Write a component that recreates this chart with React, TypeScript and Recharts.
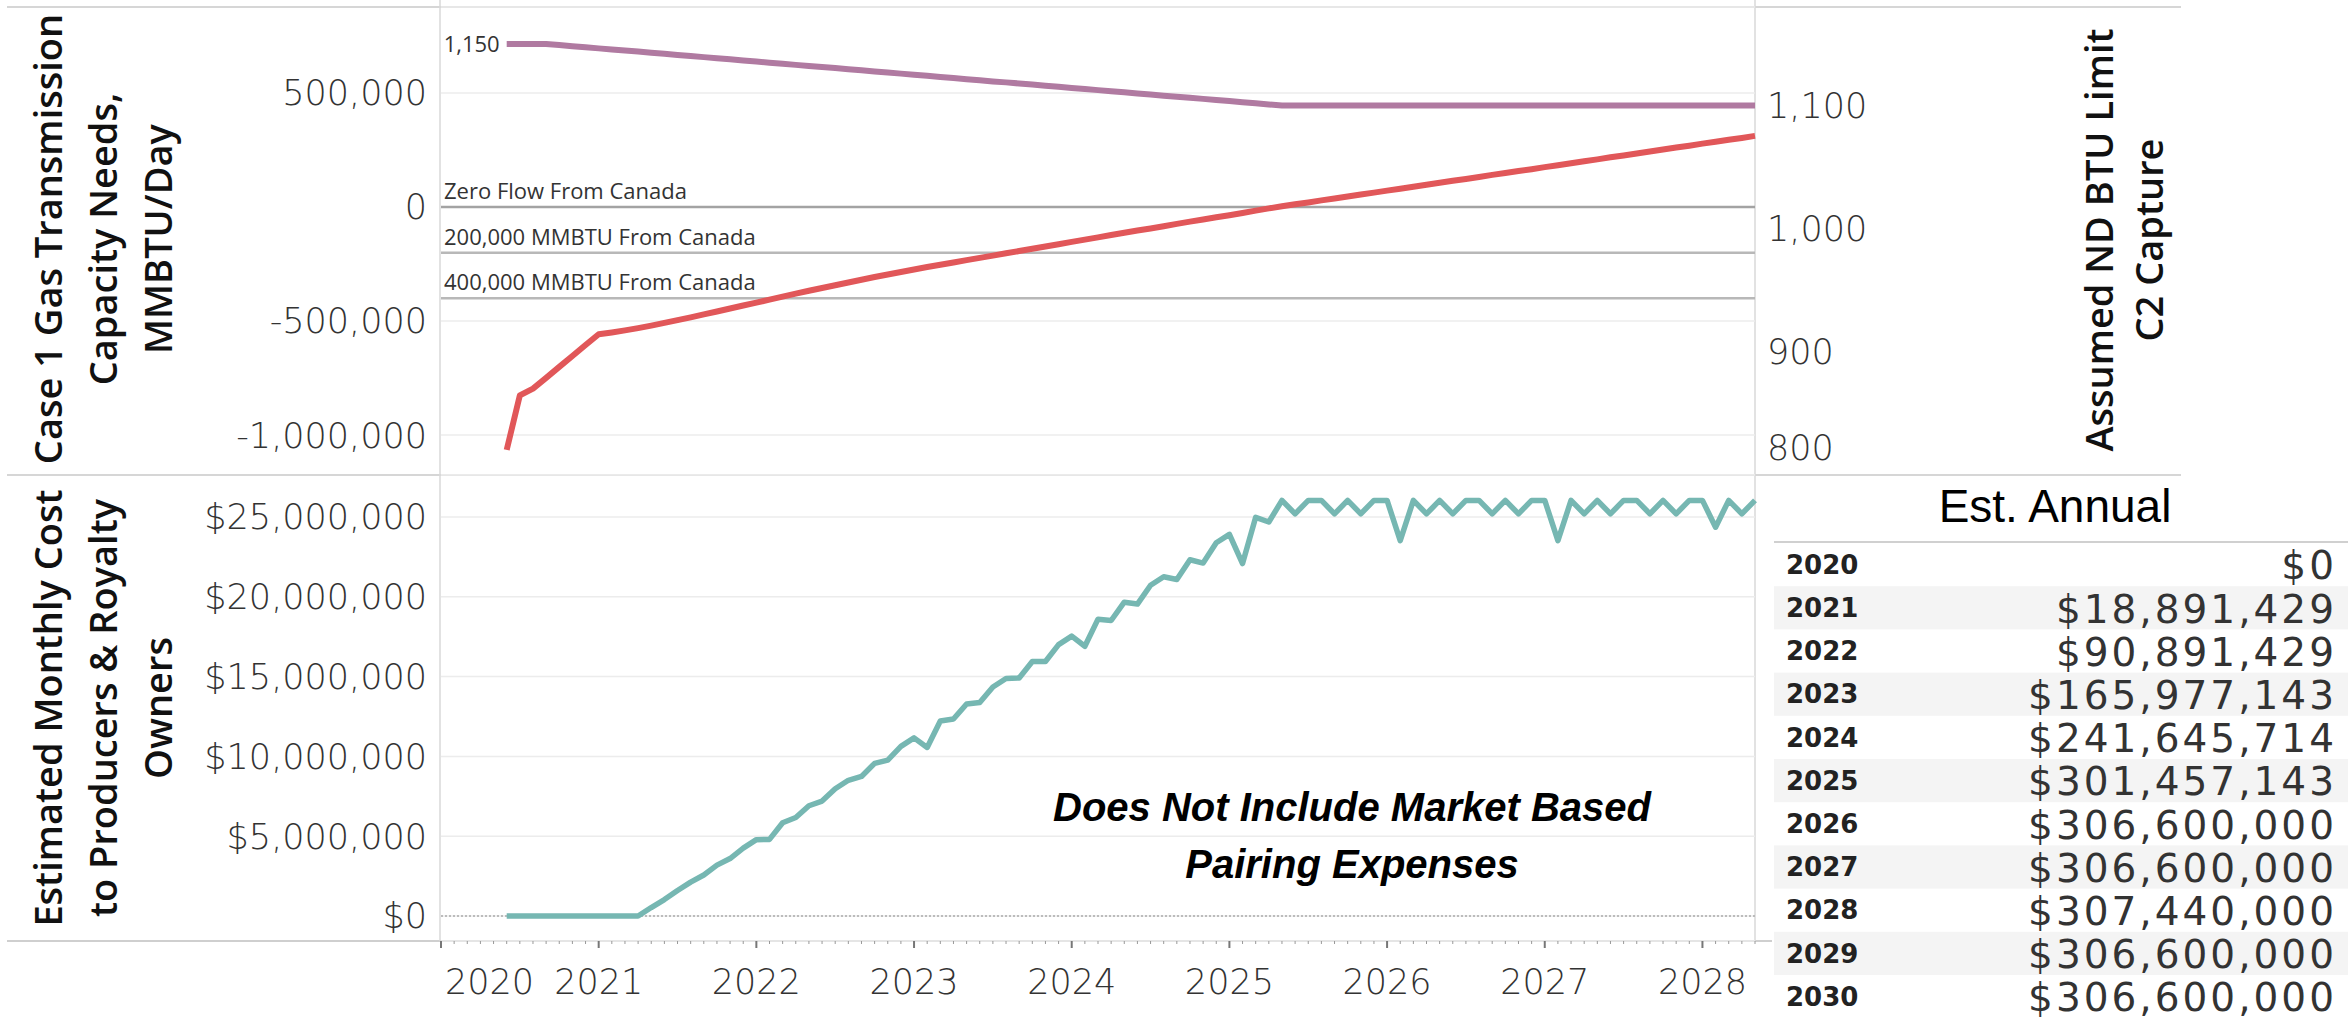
import React from 'react';
import { LineChart, Line, XAxis, YAxis, CartesianGrid, ReferenceLine, LabelList } from 'recharts';

// ---------- data ----------
const months = [
  '2020-06', '2020-07', '2020-08', '2020-09', '2020-10', '2020-11', '2020-12',
  '2021-01', '2021-02', '2021-03', '2021-04', '2021-05', '2021-06', '2021-07', '2021-08', '2021-09', '2021-10', '2021-11', '2021-12',
  '2022-01', '2022-02', '2022-03', '2022-04', '2022-05', '2022-06', '2022-07', '2022-08', '2022-09', '2022-10', '2022-11', '2022-12',
  '2023-01', '2023-02', '2023-03', '2023-04', '2023-05', '2023-06', '2023-07', '2023-08', '2023-09', '2023-10', '2023-11', '2023-12',
  '2024-01', '2024-02', '2024-03', '2024-04', '2024-05', '2024-06', '2024-07', '2024-08', '2024-09', '2024-10', '2024-11', '2024-12',
  '2025-01', '2025-02', '2025-03', '2025-04', '2025-05', '2025-06', '2025-07', '2025-08', '2025-09', '2025-10', '2025-11', '2025-12',
  '2026-01', '2026-02', '2026-03', '2026-04', '2026-05', '2026-06', '2026-07', '2026-08', '2026-09', '2026-10', '2026-11', '2026-12',
  '2027-01', '2027-02', '2027-03', '2027-04', '2027-05', '2027-06', '2027-07', '2027-08', '2027-09', '2027-10', '2027-11', '2027-12',
  '2028-01', '2028-02', '2028-03', '2028-04', '2028-05',
];

// Case 1 gas transmission capacity needs, MMBTU/day
const capacityNeeds = [
  -1065000, -826000, -796000, -749000, -701000, -653000, -605000,
  -558000, -550000, -541000, -531000, -520000, -508000, -496000, -484000, -471000, -458000, -445000, -432000,
  -419000, -406000, -393000, -380000, -367000, -355000, -343000, -331000, -319000, -307000, -296000, -285000,
  -274000, -263000, -253000, -243000, -233000, -223000, -213000, -203000, -193000, -183000, -173000, -163000,
  -153000, -143000, -133000, -123000, -113000, -103000, -94000, -84000, -74000, -64000, -55000, -45000,
  -36000, -26000, -16000, -6000, 3000, 12000, 20000, 29000, 37000, 46000, 55000, 63000,
  72000, 80000, 89000, 98000, 106000, 115000, 123000, 132000, 141000, 149000, 158000, 166000,
  175000, 183000, 192000, 201000, 209000, 218000, 226000, 235000, 243000, 252000, 261000, 269000,
  278000, 286000, 295000, 303000, 312000,
];

// Assumed ND BTU limit (C2 capture)
const btuLimit = [
  1150, 1150, 1150, 1150, 1149.1, 1148.2, 1147.3,
  1146.4, 1145.5, 1144.6, 1143.8, 1142.9, 1142.0, 1141.1, 1140.2, 1139.3, 1138.4, 1137.5, 1136.6,
  1135.7, 1134.8, 1133.9, 1133.0, 1132.1, 1131.3, 1130.4, 1129.5, 1128.6, 1127.7, 1126.8, 1125.9,
  1125.0, 1124.1, 1123.2, 1122.3, 1121.4, 1120.5, 1119.6, 1118.8, 1117.9, 1117.0, 1116.1, 1115.2,
  1114.3, 1113.4, 1112.5, 1111.6, 1110.7, 1109.8, 1108.9, 1108.0, 1107.1, 1106.3, 1105.4, 1104.5,
  1103.6, 1102.7, 1101.8, 1100.9, 1100, 1100, 1100, 1100, 1100, 1100, 1100, 1100,
  1100, 1100, 1100, 1100, 1100, 1100, 1100, 1100, 1100, 1100, 1100, 1100,
  1100, 1100, 1100, 1100, 1100, 1100, 1100, 1100, 1100, 1100, 1100, 1100,
  1100, 1100, 1100, 1100, 1100,
];

// Estimated monthly cost to producers & royalty owners, $
const monthlyCost = [
  0, 0, 0, 0, 0, 0, 0,
  0, 0, 0, 0, 531429, 1028571, 1594286, 2125714, 2571429, 3188571, 3600000, 4251429,
  4782857, 4800000, 5845714, 6171429, 6908571, 7200000, 7971429, 8502857, 8742857, 9565714, 9771429, 10628571,
  11160000, 10560000, 12222857, 12342857, 13285714, 13371429, 14348571, 14880000, 14914286, 15942857, 15942857, 17005714,
  17537143, 16902857, 18600000, 18514286, 19662857, 19542857, 20725714, 21257143, 21085714, 22320000, 22114286, 23382857,
  23914286, 22080000, 24977143, 24685714, 26040000, 25200000, 26040000, 26040000, 25200000, 26040000, 25200000, 26040000,
  26040000, 23520000, 26040000, 25200000, 26040000, 25200000, 26040000, 26040000, 25200000, 26040000, 25200000, 26040000,
  26040000, 23520000, 26040000, 25200000, 26040000, 25200000, 26040000, 26040000, 25200000, 26040000, 25200000, 26040000,
  26040000, 24360000, 26040000, 25200000, 26040000,
];

const annualYears = ['2020', '2021', '2022', '2023', '2024', '2025', '2026', '2027', '2028', '2029', '2030'];
const annualCost = [0, 18891429, 90891429, 165977143, 241645714, 301457143, 306600000, 306600000, 307440000, 306600000, 306600000];

const yearLabels = ['2020', '2021', '2022', '2023', '2024', '2025', '2026', '2027', '2028'];
const capacityTicks = [-1000000, -500000, 0, 500000];
const btuTicks = [800, 900, 1000, 1100];
const costTicks = [0, 5000000, 10000000, 15000000, 20000000, 25000000];
const referenceLevels = [0, -200000, -400000];
const referenceLabels = ['Zero Flow From Canada', '200,000 MMBTU From Canada', '400,000 MMBTU From Canada'];

const topTitle = ['Case 1 Gas Transmission', 'Capacity Needs,', 'MMBTU/Day'];
const bottomTitle = ['Estimated Monthly Cost', 'to Producers & Royalty', 'Owners'];
const rightTitle = ['Assumed ND BTU Limit', 'C2 Capture'];
const noteLines = ['Does Not Include Market Based', 'Pairing Expenses'];

// ---------- derived table ----------
const monthIndex = (m: string) => {
  const [y, mo] = m.split('-').map(Number);
  return (y - 2020) * 12 + (mo - 1);
};
const rows = months.map((m, i) => ({
  t: monthIndex(m),
  need: capacityNeeds[i],
  btu: btuLimit[i],
  cost: monthlyCost[i],
}));
const monthTicks = Array.from({ length: 101 }, (_, i) => i);

// ---------- styles ----------
const tickFont = "'DejaVu Sans', sans-serif";
const openSans = "'Open Sans', sans-serif";
const arial = "'Liberation Sans', Arial, sans-serif";
const fmtNum = (v: number) => v.toLocaleString('en-US');
const fmtMoney = (v: number) => '$' + v.toLocaleString('en-US');

const tickStyle = { fontSize: 35, fill: '#333', fontFamily: tickFont, fontWeight: 300 };

const RightTick = (props: any) => {
  const { x, y, payload } = props;
  return (
    <text x={x} y={Math.min(y, 448)} dy="0.355em" textAnchor="start" fontSize={35} fill="#333" fontFamily={tickFont} fontWeight={300}>
      {fmtNum(payload.value)}
    </text>
  );
};

const MonthTick = (props: any) => {
  const { x, y, payload } = props;
  const t = payload.value as number;
  const isYear = t % 12 === 0;
  const label = isYear ? yearLabels[t / 12] : null;
  return (
    <g>
      <line x1={x} x2={x} y1={y} y2={y + (isYear ? 7 : 3)} stroke={isYear ? '#777' : '#999'} strokeWidth={isYear ? 2 : 1} />
      {label && (
        <text x={t === 0 ? x + 4 : x} y={y + 53} textAnchor={t === 0 ? 'start' : 'middle'} fontSize={35} fill="#333" fontFamily={tickFont} fontWeight={300}>
          {label}
        </text>
      )}
    </g>
  );
};

const refLabel = (text: string) => (props: any) => {
  const vb = props.viewBox || {};
  return (
    <text x={(vb.x ?? 441) + 3} y={(vb.y ?? 0) - 8} fontSize={22} fill="#333" fontFamily={openSans}>
      {text}
    </text>
  );
};

const firstBtuLabel = (p: any) => {
  if (p.index !== 0) return null;
  return (
    <text x={p.x - 7} y={p.y} dy="0.355em" textAnchor="end" fontSize={22} fill="#333" fontFamily={openSans}>
      {fmtNum(p.value)}
    </text>
  );
};

const RotTitle = ({ lines, baselines, cy }: { lines: string[]; baselines: number[]; cy: number }) => (
  <g>
    {lines.map((l, i) => (
      <text key={l} x={baselines[i]} y={cy} transform={`rotate(-90 ${baselines[i]} ${cy})`} textAnchor="middle" fontSize={38} fontWeight={600} fill="#111" fontFamily={openSans}>
        {l}
      </text>
    ))}
  </g>
);

export default function App() {
  const rowH = 43.2;
  const tableTop = 542;
  return (
    <div style={{ position: 'absolute', left: 0, top: 0, width: 2348, height: 1020, background: '#fff', overflow: 'hidden' }}>
      {/* frame, titles, table */}
      <svg width={2348} height={1020} style={{ position: 'absolute', left: 0, top: 0 }}>
        <line x1={7} x2={2181} y1={7} y2={7} stroke="#d6d6d6" strokeWidth={2} />
        <line x1={7} x2={2181} y1={475} y2={475} stroke="#d6d6d6" strokeWidth={2} />
        <line x1={7} x2={1772} y1={941} y2={941} stroke="#cfcfcf" strokeWidth={2} />
        <line x1={440} x2={440} y1={0} y2={941} stroke="#d9d9d9" strokeWidth={1.5} />
        <line x1={1755} x2={1755} y1={0} y2={941} stroke="#d9d9d9" strokeWidth={1.5} />

        <RotTitle lines={topTitle} baselines={[62, 117, 172]} cy={239} />
        <RotTitle lines={bottomTitle} baselines={[62, 117, 172]} cy={708} />
        <RotTitle lines={rightTitle} baselines={[2113, 2163]} cy={240} />

        <text x={2055} y={522} textAnchor="middle" fontSize={46} fill="#000" fontFamily={arial}>Est. Annual</text>
        <line x1={1774} x2={2348} y1={542} y2={542} stroke="#d0d0d0" strokeWidth={2} />
        {annualYears.map((yr, k) => {
          const top = tableTop + 1 + k * rowH;
          const cy = top + rowH / 2;
          return (
            <g key={yr}>
              {k % 2 === 1 && <rect x={1774} y={top} width={574} height={rowH} fill="#f4f4f4" />}
              <text x={1786} y={cy} dy="0.355em" fontSize={26} fontWeight="bold" fill="#222" fontFamily={tickFont}>{yr}</text>
              <text x={2337} y={cy + 1} dy="0.355em" textAnchor="end" fontSize={39} letterSpacing={3} fill="#333" fontFamily={tickFont}>{fmtMoney(annualCost[k])}</text>
            </g>
          );
        })}
      </svg>

      {/* top chart */}
      <div style={{ position: 'absolute', left: 0, top: 0 }}>
        <LineChart width={2200} height={480} data={rows} margin={{ top: 7, right: 0, bottom: 5, left: 0 }}>
          <CartesianGrid yAxisId="l" vertical={false} stroke="#ececec" strokeWidth={1.5} />
          <XAxis dataKey="t" type="number" domain={[0, 100]} hide />
          <YAxis yAxisId="l" width={441} domain={[-1175000, 877000]} ticks={capacityTicks} tickFormatter={fmtNum}
            axisLine={false} tickLine={false} tickSize={0} tickMargin={14} tick={tickStyle} interval={0} />
          <YAxis yAxisId="r" orientation="right" width={445} domain={[800, 1180]} ticks={btuTicks}
            axisLine={false} tickLine={false} tickSize={0} tickMargin={12} tick={<RightTick />} interval={0} />
          {referenceLevels.map((lv, i) => (
            <ReferenceLine key={lv} yAxisId="l" y={lv} stroke={i === 0 ? '#a3a3a3' : '#b8b8b8'} strokeWidth={2.5}
              label={refLabel(referenceLabels[i])} />
          ))}
          <Line yAxisId="r" dataKey="btu" stroke="#b07aa1" strokeWidth={6} dot={false} isAnimationActive={false} strokeLinejoin="round">
            <LabelList dataKey="btu" content={firstBtuLabel} />
          </Line>
          <Line yAxisId="l" dataKey="need" stroke="#e15759" strokeWidth={6} dot={false} isAnimationActive={false} strokeLinejoin="round" />
        </LineChart>
      </div>

      {/* bottom chart */}
      <div style={{ position: 'absolute', left: 0, top: 474 }}>
        <LineChart width={1760} height={546} data={rows} margin={{ top: 0, right: 5, bottom: 0, left: 0 }}>
          <CartesianGrid vertical={false} stroke="#ececec" strokeWidth={1.5} />
          <XAxis dataKey="t" type="number" domain={[0, 100]} ticks={monthTicks} interval={0} height={79}
            axisLine={false} tickLine={false} tickSize={0} tickMargin={0} tick={<MonthTick />} />
          <YAxis width={441} domain={[-1566000, 27694000]} ticks={costTicks} tickFormatter={fmtMoney}
            axisLine={false} tickLine={false} tickSize={0} tickMargin={14} tick={tickStyle} interval={0} />
          <ReferenceLine y={0} stroke="#aaa" strokeWidth={1.5} strokeDasharray="2 2" />
          <Line dataKey="cost" stroke="#76b7b2" strokeWidth={5.5} dot={false} isAnimationActive={false} strokeLinejoin="round" />
        </LineChart>
      </div>

      {/* annotation */}
      <svg width={2348} height={1020} style={{ position: 'absolute', left: 0, top: 0, pointerEvents: 'none' }}>
        {noteLines.map((l, i) => (
          <text key={l} x={1352} y={821 + i * 57} textAnchor="middle" fontSize={40} fontWeight="bold" fontStyle="italic" fill="#000" fontFamily={arial}>
            {l}
          </text>
        ))}
      </svg>
    </div>
  );
}
